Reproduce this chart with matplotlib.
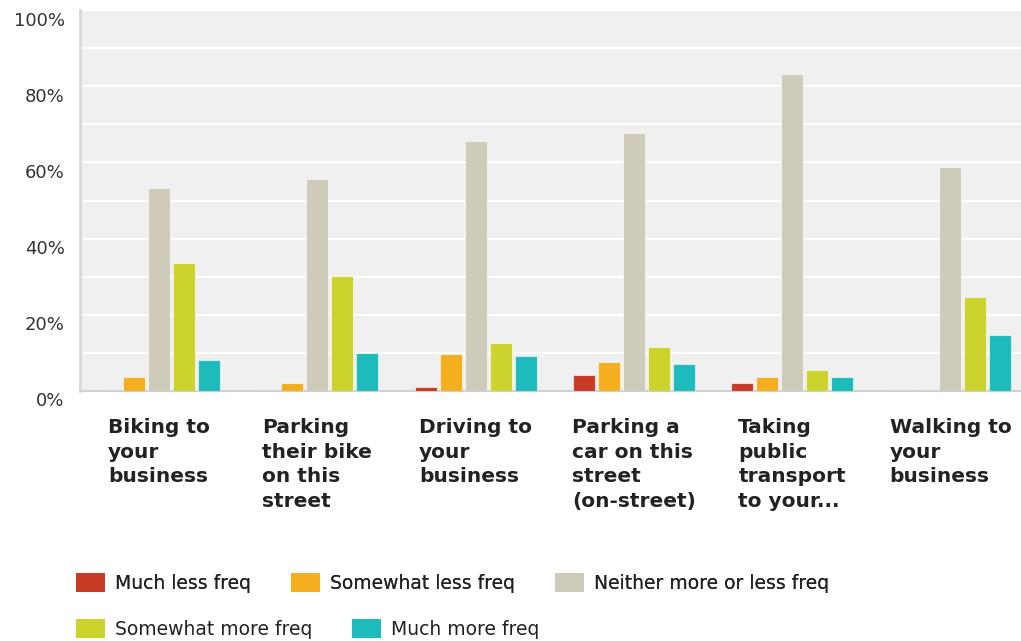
import matplotlib
matplotlib.use("Agg")
import matplotlib.pyplot as plt
import matplotlib.transforms as mtransforms
from matplotlib.patches import Patch
import numpy as np

categories = ["Biking to\nyour\nbusiness",
              "Parking\ntheir bike\non this\nstreet",
              "Driving to\nyour\nbusiness",
              "Parking a\ncar on this\nstreet\n(on-street)",
              "Taking\npublic\ntransport\nto your...",
              "Walking to\nyour\nbusiness"]
series_names = ["Much less freq", "Somewhat less freq", "Neither more or less freq",
                "Somewhat more freq", "Much more freq"]
much_less = [0, 0, 1.1, 4.1, 2.2, 0]
somewhat_less = [3.6, 2.0, 9.6, 7.6, 3.6, 0]
neither = [53.2, 55.6, 65.7, 67.7, 83.3, 58.7]
somewhat_more = [33.7, 30.2, 12.7, 11.6, 5.6, 24.7]
much_more = [8.1, 10.1, 9.1, 7.2, 3.6, 14.6]
colors = ["#C83B27", "#F4AE1E", "#CECBBB", "#CBD32C", "#1DBBBB"]
yticks = [0, 20, 40, 60, 80, 100]
ytick_labels = ["0%", "20%", "40%", "60%", "80%", "100%"]

W, H = 1021, 641
fig = plt.figure(figsize=(W / 100, H / 100), dpi=100)
fig.patch.set_facecolor("white")
ax = fig.add_axes([80 / W, (H - 391) / H, 949.5 / W, 381 / H])
ax.set_facecolor("#F0F0F0")

data = [much_less, somewhat_less, neither, somewhat_more, much_more]
x = np.arange(len(categories))
step = 0.158
width = 0.139
for i, (vals, c) in enumerate(zip(data, colors)):
    ax.bar(x + (i - 2) * step, vals, width=width, color=c,
           edgecolor=(1, 1, 1, 0.6), linewidth=0.8, zorder=3)

ax.set_xlim(-0.5, len(categories) - 0.5)
ax.set_ylim(0, 100)
ax.set_yticks(yticks)
ax.set_yticklabels(ytick_labels, fontsize=13, color="#333333")
ax.set_yticks(np.arange(0, 101, 10), minor=True)
ax.grid(axis="y", which="both", color="white", linewidth=1.6, zorder=1)
ax.tick_params(axis="y", which="both", length=0, pad=11)
ax.set_xticks([])
for lab in ax.get_yticklabels():
    lab.set_transform(lab.get_transform() +
                      mtransforms.ScaledTranslation(0, -8.5 / 100, fig.dpi_scale_trans))

for s in ["top", "right"]:
    ax.spines[s].set_visible(False)
ax.spines["left"].set_color("#D8D8D8")
ax.spines["left"].set_linewidth(2)
ax.spines["bottom"].set_color("#D0D0D0")
ax.spines["bottom"].set_linewidth(1.5)

trans = mtransforms.blended_transform_factory(ax.transData, ax.transAxes)
for xi, cat in zip(x, categories):
    ax.text(xi, -27 / 381, cat, transform=trans, ha="center", va="top",
            multialignment="left", fontsize=14.5, fontweight="bold",
            color="#222222", linespacing=1.38)

def make_legend(names, cols, y_px):
    handles = [Patch(facecolor=c, edgecolor="none") for c in cols]
    leg = fig.legend(handles, names, loc="center left",
                     bbox_to_anchor=(76 / W, 1 - y_px / H), ncol=len(names),
                     frameon=False, fontsize=13.5, handlelength=1.55,
                     handleheight=1.17, handletextpad=0.53, columnspacing=2.13,
                     borderpad=0, borderaxespad=0)
    for t in leg.get_texts():
        t.set_color("#222222")
    return leg

leg1 = make_legend(series_names[:3], colors[:3], 583)
fig.add_artist(leg1)
leg2 = make_legend(series_names[3:], colors[3:], 629)

fig.savefig("out.png", dpi=100)
